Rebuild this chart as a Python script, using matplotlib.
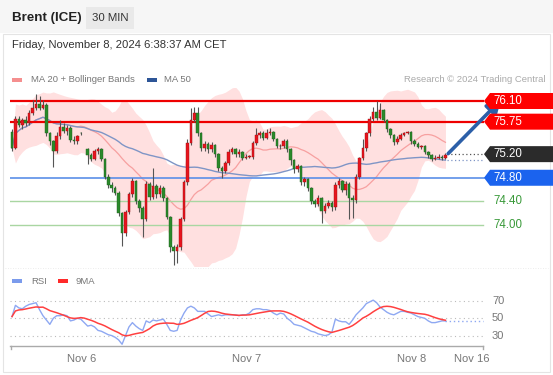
import numpy as np
import pandas as pd
import matplotlib
matplotlib.use('Agg')
import matplotlib.pyplot as plt
from matplotlib.patches import Rectangle, Polygon
import matplotlib.transforms as mtransforms

plt.rcParams['font.family'] = ['Liberation Sans', 'DejaVu Sans']

# ---------------- data ----------------
nan = np.nan
opens = [75.58, 75.30, 75.80, 75.70, 75.78, 75.72, 75.90, 75.98, 76.05, 75.98,
         76.04, 75.55, 75.42, 75.26, 75.50, 75.66, 75.60, 75.64, 75.44, 75.42,
         75.56, nan, 75.29, 75.19, 75.12, 75.25, 75.28, 75.12, 74.82, 74.68,
         74.62, 74.55, 74.20, 73.86, 74.22, 74.52, 74.74, 74.40, 74.28, 74.10,
         74.70, 74.48, 74.66, 74.52, 74.62, 74.46, 74.14, 73.62, 73.56, 73.62,
         74.10, 74.72, 75.39, 75.78, 75.90, 75.55, 75.30, 75.38, 75.28, 75.36,
         75.20, 74.97, 74.92, 75.05, 75.24, 75.28, 75.20, 75.24, 75.14, 75.16,
         75.16, 75.39, 75.53, 75.56, 75.48, 75.56, 75.58, 75.45, 75.33, 75.34,
         75.42, 75.28, 75.10, 74.94, 75.00, 74.72, 74.78, 74.62, 74.40, 74.36,
         74.45, 74.24, 74.33, 74.38, 74.30, 74.68, 74.74, 74.60, 74.70, 74.45,
         74.42, 74.82, 75.13, 75.30, 75.55, 75.80, 75.92, 75.82, 75.94, 75.78,
         75.62, 75.52, 75.40, 75.46, 75.52, 75.56, 75.58, 75.42, 75.38, 75.32,
         75.34, 75.24, 75.18, 75.12, 75.14, 75.16, 75.14]
highs = [75.62, 75.84, 75.85, 75.82, 75.84, 75.94, 76.12, 76.22, 76.18, 76.12,
         76.06, 75.58, 75.44, 75.58, 75.78, 75.72, 75.70, 75.68, 75.50, 75.52,
         75.58, nan, 75.30, 75.22, 75.28, 75.32, 75.30, 75.14, 74.86, 74.72,
         74.66, 74.58, 74.22, 74.26, 74.56, 74.80, 74.76, 74.44, 74.32, 74.74,
         74.72, 74.96, 74.70, 74.68, 74.66, 74.48, 74.16, 73.66, 73.68, 74.14,
         74.76, 75.45, 75.98, 76.00, 76.00, 75.58, 75.42, 75.40, 75.40, 75.38,
         75.22, 75.00, 75.08, 75.28, 75.32, 75.30, 75.28, 75.26, 75.20, 75.18,
         75.42, 75.64, 75.60, 75.60, 75.62, 75.65, 75.60, 75.48, 75.38, 75.46,
         75.45, 75.30, 75.12, 75.04, 75.02, 74.82, 74.80, 74.64, 74.44, 74.50,
         74.48, 74.38, 74.42, 74.40, 74.72, 74.80, 74.76, 74.74, 74.72, 74.50,
         74.86, 75.16, 75.45, 75.58, 75.84, 76.00, 76.10, 76.06, 75.96, 75.80,
         75.64, 75.54, 75.50, 75.55, 75.58, 75.60, 75.60, 75.45, 75.40, 75.36,
         75.36, 75.26, 75.20, 75.18, 75.20, 75.18, 75.22]
lows = [75.26, 75.28, 75.66, 75.62, 75.68, 75.70, 75.86, 75.95, 75.94, 75.96,
        75.50, 75.36, 74.99, 75.22, 75.46, 75.56, 75.52, 75.40, 75.38, 75.38,
        75.53, nan, 75.03, 75.08, 75.10, 75.20, 75.08, 74.78, 74.62, 74.56,
        74.50, 74.16, 73.65, 73.82, 74.18, 74.48, 74.36, 74.22, 73.80, 74.06,
        74.42, 74.44, 74.46, 74.48, 74.40, 74.10, 73.55, 73.33, 73.36, 73.58,
        74.06, 74.68, 75.35, 75.74, 75.50, 75.25, 75.26, 75.22, 75.24, 75.16,
        74.92, 74.80, 74.88, 75.02, 75.20, 75.16, 75.16, 75.10, 75.12, 75.14,
        75.12, 75.36, 75.48, 75.44, 75.46, 75.52, 75.42, 75.30, 75.28, 75.30,
        75.24, 75.02, 74.88, 74.90, 74.68, 74.66, 74.58, 74.36, 74.30, 74.32,
        74.03, 74.20, 74.28, 74.24, 74.26, 74.62, 74.56, 74.50, 74.10, 74.12,
        74.38, 74.78, 75.10, 75.26, 75.50, 75.76, 75.78, 75.80, 75.74, 75.58,
        75.48, 75.36, 75.38, 75.44, 75.50, 75.54, 75.38, 75.34, 75.30, 75.28,
        75.20, 75.14, 75.08, 75.10, 75.12, 75.10, 75.12]
closes = [75.30, 75.80, 75.70, 75.78, 75.72, 75.90, 75.98, 76.05, 75.98, 76.04,
          75.55, 75.42, 75.26, 75.50, 75.66, 75.60, 75.64, 75.44, 75.42, 75.50,
          75.55, nan, 75.19, 75.12, 75.25, 75.28, 75.12, 74.82, 74.68, 74.62,
          74.55, 74.20, 73.86, 74.22, 74.52, 74.74, 74.40, 74.28, 74.10, 74.70,
          74.48, 74.66, 74.52, 74.62, 74.46, 74.14, 73.62, 73.56, 73.62, 74.10,
          74.72, 75.39, 75.78, 75.90, 75.55, 75.30, 75.38, 75.28, 75.36, 75.20,
          74.97, 74.92, 75.05, 75.24, 75.28, 75.20, 75.24, 75.14, 75.16, 75.16,
          75.39, 75.53, 75.56, 75.48, 75.56, 75.58, 75.45, 75.33, 75.34, 75.42,
          75.28, 75.10, 74.94, 75.00, 74.72, 74.78, 74.62, 74.40, 74.36, 74.45,
          74.24, 74.33, 74.38, 74.30, 74.68, 74.74, 74.60, 74.70, 74.45, 74.42,
          74.82, 75.13, 75.30, 75.55, 75.80, 75.92, 75.82, 75.94, 75.78, 75.62,
          75.52, 75.40, 75.46, 75.52, 75.56, 75.58, 75.42, 75.38, 75.32, 75.34,
          75.24, 75.18, 75.12, 75.14, 75.16, 75.14, 75.19]
rsi_values = [52, 65, 62, 61, 64, 66, 67, 68, 60, 53,
              48, 43, 50, 53, 53, 54, 53, 47, 48, 50,
              49, 45, 41, 42, 40, 36, 35, 33, 31, 30,
              28, 25, 20, 30, 40, 45, 41, 38, 36, 47,
              45, 48, 47, 48, 49, 43, 36, 35, 36, 48,
              56, 62, 64, 62, 58, 58, 58, 55, 52, 53,
              54, 53, 54, 54, 54, 54, 53, 54, 54, 56,
              60, 61, 61, 60, 60, 59, 56, 54, 56, 55,
              50, 47, 43, 42, 41, 39, 37, 35, 34, 32,
              31, 30, 31, 34, 49, 47, 46, 46, 43, 48,
              54, 58, 62, 67, 69, 71, 68, 63, 60, 57,
              55, 54, 56, 58, 58, 57, 56, 54, 52, 51,
              50, 47, 45, 45, 46, 47, 47]

resistance_levels = [76.10, 75.75]
pivot_level = 75.20
support_level = 74.80
target_levels = [74.40, 74.00]
rsi_levels = [70, 50, 30]
day_ticks = [20.3, 68.3, 116.3, 133.7]
day_labels = ['Nov 6', 'Nov 7', 'Nov 8', 'Nov 16']

# ---------------- layout helpers ----------------
W, H = 553, 375
fig = plt.figure(figsize=(W / 100, H / 100), dpi=100)
fig.patch.set_facecolor('white')

def fx(px):
    return px / W

def fy(py):
    return 1 - py / H

PX0, STEP = 12.0, 3.44
def px2i(px):
    return (px - PX0) / STEP

# page background
fig.patches.append(Rectangle((0, fy(33)), 1, 1 - fy(33), transform=fig.transFigure,
                             facecolor='#f6f6f6', edgecolor='none', zorder=-10))
fig.patches.append(Rectangle((fx(3), fy(372)), fx(547), fy(34) - fy(372),
                             transform=fig.transFigure, facecolor='white',
                             edgecolor='#e4e4e4', lw=0.8, zorder=-9))

# header
fig.text(fx(12), fy(18), 'Brent (ICE)', fontsize=9.6, fontweight='bold',
         color='#222222', va='center', ha='left')
fig.patches.append(Rectangle((fx(86), fy(29)), fx(48), fy(7) - fy(29),
                             transform=fig.transFigure, facecolor='#e9e9e9',
                             edgecolor='none', zorder=-8))
fig.text(fx(110), fy(18), '30 MIN', fontsize=8.2, color='#333333', va='center', ha='center')
fig.text(fx(12), fy(45), 'Friday, November 8, 2024 6:38:37 AM CET', fontsize=8.1,
         color='#333333', va='center', ha='left')

# legends
fig.patches.append(Rectangle((fx(12), fy(82)), fx(10), fy(78) - fy(82),
                             transform=fig.transFigure, facecolor='#f58f8f', edgecolor='none'))
fig.text(fx(31), fy(80), 'MA 20 + Bollinger Bands', fontsize=6.8, color='#777777', va='center')
fig.patches.append(Rectangle((fx(147), fy(82)), fx(10), fy(78) - fy(82),
                             transform=fig.transFigure, facecolor='#2d5597', edgecolor='none'))
fig.text(fx(164), fy(80), 'MA 50', fontsize=6.8, color='#777777', va='center')
fig.text(fx(545), fy(80), 'Research © 2024 Trading Central', fontsize=6.8,
         color='#aaaaaa', va='center', ha='right')

fig.patches.append(Rectangle((fx(12), fy(283)), fx(10), fy(279) - fy(283),
                             transform=fig.transFigure, facecolor='#7b9bec', edgecolor='none'))
fig.text(fx(31), fy(281), 'RSI', fontsize=6.8, color='#777777', va='center')
fig.patches.append(Rectangle((fx(58), fy(283)), fx(10), fy(279) - fy(283),
                             transform=fig.transFigure, facecolor='#ff2a2a', edgecolor='none'))
fig.text(fx(76), fy(281), '9MA', fontsize=6.8, color='#777777', va='center')

# ---------------- main axes ----------------
ax = fig.add_axes([fx(10), fy(266), fx(543), fy(88) - fy(266)])
ax.set_xlim(px2i(10), px2i(553))
p_per_px = 1 / 59.05
ax.set_ylim(76.10 - (266 - 101) * p_per_px, 76.10 + (101 - 88) * p_per_px)
ax.axis('off')

idx = np.arange(len(closes))
o = np.array(opens, float)
h = np.array(highs, float)
l = np.array(lows, float)
c = np.array(closes, float)
cs = pd.Series(c).ffill()

ma20 = cs.rolling(20, min_periods=1).mean()
sd20 = cs.rolling(20, min_periods=1).std(ddof=0)
upper = ma20 + 2 * sd20
lower = ma20 - 2 * sd20
ma50 = cs.rolling(50, min_periods=1).mean()

ax.fill_between(idx, lower, upper, color='#ffe0e0', lw=0, zorder=1)
ax.plot(idx, ma20, color='#f7a0a0', lw=0.9, zorder=2)
ax.plot(idx, ma50, color='#7f95c6', lw=1.0, zorder=2)

x_end = px2i(484)
for lv in resistance_levels:
    ax.plot([px2i(10), x_end], [lv, lv], color='#ee0000', lw=1.6, zorder=3,
            solid_capstyle='butt')
ax.plot([px2i(10), x_end], [support_level] * 2, color='#5b8fe8', lw=1.2, zorder=3)
for lv in target_levels:
    ax.plot([px2i(10), px2i(483)], [lv, lv], color='#a9d6a2', lw=1.0, zorder=3)

# candles
valid = ~np.isnan(c)
up = valid & (c >= o)
dn = valid & (c < o)
ax.vlines(idx[valid], l[valid], h[valid], color='#555555', lw=0.8, zorder=4)
body_lo = np.minimum(o, c)
body_h = np.maximum(np.abs(c - o), 0.012)
ax.bar(idx[up], body_h[up], bottom=body_lo[up], width=0.75, color='#e8141e',
       edgecolor='#9a1010', lw=0.3, zorder=5)
ax.bar(idx[dn], body_h[dn], bottom=body_lo[dn], width=0.75, color='#2a8a2a',
       edgecolor='#1f5e1f', lw=0.3, zorder=5)

last_i = idx[valid][-1]
last_c = c[valid][-1]
ax.plot([last_i + 0.5, px2i(483)], [pivot_level, pivot_level], color='#555555',
        lw=0.9, ls=(0, (1, 2)), zorder=3)
ax.plot([last_i + 0.5, px2i(483)], [ma50.iloc[-1]] * 2, color='#7f95c6',
        lw=0.9, ls=(0, (1, 2)), zorder=3)

# forecast arrow
ax.annotate('', xy=(px2i(501), resistance_levels[0] + 0.02), xytext=(last_i + 0.8, last_c + 0.02),
            arrowprops=dict(arrowstyle='-|>,head_length=0.8,head_width=0.45',
                            color='#2c5fa8', lw=2.6, shrinkA=0, shrinkB=0), zorder=6)

# tags
trans = mtransforms.blended_transform_factory(fig.transFigure, ax.transData)
half = 8 * p_per_px
def tag(price, face, text, tcolor='white'):
    pts = [(fx(484), price), (fx(490), price + half), (fx(553), price + half),
           (fx(553), price - half), (fx(490), price - half)]
    ax.add_patch(Polygon(pts, closed=True, transform=trans, facecolor=face,
                         edgecolor='none', clip_on=False, zorder=7))
    ax.text(fx(493), price, text, transform=trans, color=tcolor, fontsize=8.3,
            va='center', ha='left', zorder=8, clip_on=False)

for lv in resistance_levels:
    tag(lv, '#ff0000', f'{lv:.2f}')
tag(pivot_level, '#2b2b2b', f'{pivot_level:.2f}')
tag(support_level, '#1b63ee', f'{support_level:.2f}')
for lv in target_levels:
    ax.text(fx(493), lv, f'{lv:.2f}', transform=trans, color='#3a9a3a', fontsize=8.3,
            va='center', ha='left', clip_on=False)

# separator
fig.add_artist(plt.Line2D([fx(5), fx(548)], [fy(268), fy(268)], color='#e6e6e6',
                          lw=0.6, ls=(0, (1, 2))))

# ---------------- RSI axes ----------------
rax = fig.add_axes([fx(10), fy(346), fx(543), fy(290) - fy(346)])
rax.patch.set_alpha(0)
rax.set_xlim(px2i(10), px2i(553))
rax.set_ylim(50 - (346 - 318.3) / 0.865, 50 + (318.3 - 290) / 0.865)
for s in ['top', 'right', 'left']:
    rax.spines[s].set_visible(False)
rax.spines['bottom'].set_color('#aaaaaa')
rax.spines['bottom'].set_linewidth(1.0)
rax.spines['bottom'].set_bounds(px2i(10), px2i(483))
rax.set_yticks([])
rax.set_xticks(day_ticks)
rax.set_xticklabels(day_labels, fontsize=8, color='#777777')
rax.tick_params(axis='x', length=0, pad=6)
for xe in [px2i(10.5), px2i(482.5)]:
    rax.plot([xe, xe], [rax.get_ylim()[0], rax.get_ylim()[0] - 4], color='#aaaaaa',
             lw=1.0, clip_on=False)

rsi = pd.Series(rsi_values, dtype=float)
rsi_ma = rsi.rolling(9, min_periods=1).mean()

for lv in rsi_levels:
    rax.plot([px2i(10), px2i(483)], [lv, lv], color='#bbbbbb', lw=0.8, ls=(0, (1, 3)))
    rax.text(fx(492), lv, str(lv), transform=mtransforms.blended_transform_factory(
        fig.transFigure, rax.transData), fontsize=8, color='#777777', va='center')
rax.plot(idx, rsi, color='#8ea8f2', lw=1.0, zorder=3)
rax.plot(idx, rsi_ma, color='#ff4040', lw=1.1, zorder=4)
rax.plot([idx[-1], px2i(483)], [rsi.iloc[-1]] * 2, color='#8ea8f2', lw=1.0,
         ls=(0, (1, 2)))

fig.savefig('out.png', dpi=100, facecolor=fig.get_facecolor())
